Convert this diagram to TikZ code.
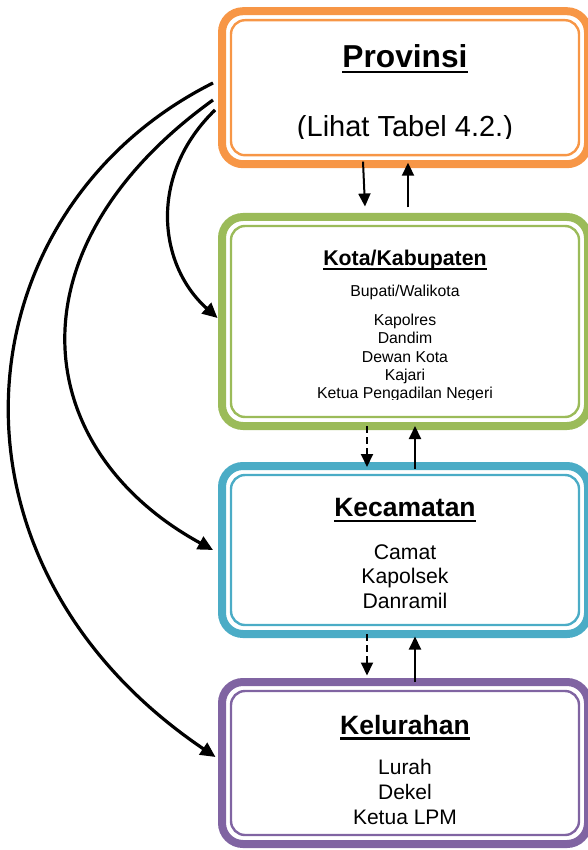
\documentclass[tikz,border=0pt]{standalone}
\usepackage{fontspec}
\setmainfont{Liberation Sans}
\usetikzlibrary{arrows.meta}
\definecolor{cprov}{HTML}{F79646}
\definecolor{ckota}{HTML}{9BBB59}
\definecolor{ckec}{HTML}{4BACC6}
\definecolor{ckel}{HTML}{8064A2}
\newcommand\fsz[1]{\fontsize{#1}{#1}\selectfont}
\newcommand\ulbox[3]{\setbox0=\hbox{#1}\hbox{\rlap{\rule[-#2]{\wd0}{#3}}\box0}}
\tikzset{
  box/.style={draw=#1, line width=8pt, rounded corners=21pt, minimum width=366pt,
    inner sep=0pt, outer sep=0pt},
  innerbox/.style={draw=#1, line width=2.4pt, rounded corners=14pt},
  txt/.style={anchor=base, inner sep=0pt, outer sep=0pt},
  arr/.style={line width=2pt, -{Triangle[length=13pt,width=12pt]}},
  darr/.style={arr, dash pattern=on 7pt off 4pt},
  carr/.style={line width=3.2pt, -{Triangle[length=15pt,width=14pt]}},
}
\begin{document}
\begin{tikzpicture}[x=1pt,y=-1pt]
\useasboundingbox (0,0) rectangle (587,850);
% boxes
\node[box=cprov, minimum height=153pt] (prov) at (405,87.7) {};
\node[box=ckota, minimum height=209pt] (kota) at (405,321.5) {};
\node[box=ckec, minimum height=168pt] (kec) at (405,550) {};
\node[box=ckel, minimum height=162pt] (kel) at (405,763) {};
\foreach \n/\c in {prov/cprov,kota/ckota,kec/ckec,kel/ckel}
  \draw[innerbox=\c] ([shift={(9pt,-9pt)}]\n.north west) rectangle ([shift={(-9pt,9pt)}]\n.south east);
% Provinsi texts
\node[txt, font=\fsz{31.7}\bfseries] (tprov) at (405,68) {\ulbox{Provinsi}{5.5pt}{2.8pt}};
\begin{scope}
\clip (230,0) rectangle (580,139);
\node[txt, font=\fsz{29}] (tlihat) at (405,137) {(Lihat Tabel 4.2.)};
\end{scope}
% Kota texts
\node[txt, font=\fsz{21.3}\bfseries] (tkota) at (405,265) {\ulbox{Kota/Kabupaten}{4.5pt}{2pt}};
\node[txt, font=\fsz{15.8}] (tbup) at (405,296.5) {Bupati/Walikota};
\node[txt, font=\fsz{15.8}] (tkapolres) at (405,325) {Kapolres};
\node[txt, font=\fsz{15.8}] (tdandim) at (405,343.5) {Dandim};
\node[txt, font=\fsz{15.8}] (tdewan) at (405,362) {Dewan Kota};
\node[txt, font=\fsz{15.8}] (tkajari) at (405,380) {Kajari};
\begin{scope}
\clip (230,300) rectangle (580,399.5);
\node[txt, font=\fsz{15.8}] (tketua) at (405,398) {Ketua Pengadilan Negeri};
\end{scope}
% Kecamatan texts
\node[txt, font=\fsz{26.5}\bfseries] (tkec) at (405,516.7) {\ulbox{Kecamatan}{5.5pt}{2.6pt}};
\node[txt, font=\fsz{21.2}] (tcamat) at (405,559) {Camat};
\node[txt, font=\fsz{21.2}] (tkapolsek) at (405,583.5) {Kapolsek};
\node[txt, font=\fsz{21.2}] (tdanramil) at (405,608.3) {Danramil};
% Kelurahan texts
\node[txt, font=\fsz{26.5}\bfseries] (tkel) at (405,734) {\ulbox{Kelurahan}{5.5pt}{2.6pt}};
\node[txt, font=\fsz{21}] (tlurah) at (405,774.3) {Lurah};
\node[txt, font=\fsz{21}] (tdekel) at (405,799.3) {Dekel};
\node[txt, font=\fsz{21}] (tlpm) at (405,824) {Ketua LPM};
% vertical connectors
\draw[arr] ([xshift=-42pt,yshift=2.5pt]prov.south) -- ([xshift=-40pt,yshift=10.5pt]kota.north);
\draw[arr] ([xshift=3pt,yshift=9.5pt]kota.north) -- ([xshift=3pt,yshift=1.5pt]prov.south);
\draw[darr] ([xshift=-38pt]kota.south) -- ([xshift=-38pt,yshift=-1pt]kec.north);
\draw[arr] ([xshift=10pt,yshift=-2.5pt]kec.north) -- ([xshift=10pt]kota.south);
\draw[darr] ([xshift=-38pt]kec.south) -- ([xshift=-38pt,yshift=6.5pt]kel.north);
\draw[arr] ([xshift=10pt]kel.north) -- ([xshift=10pt,yshift=-2.5pt]kec.south);
% curved connectors from Provinsi
\coordinate (s1) at (213,83);
\coordinate (s2) at (213,100);
\coordinate (s3) at (215,110);
\draw[carr] (s3) .. controls (148,175) and (158,265) .. ([xshift=-4.5pt,yshift=3.5pt]kota.west);
\draw[carr] (s2) .. controls (5,250) and (30,450) .. ([xshift=-9pt]kec.west);
\draw[carr] (s1) .. controls (-40,210) and (-76,560) .. ([xshift=-6.5pt,yshift=6pt]kel.west);
\end{tikzpicture}
\end{document}
